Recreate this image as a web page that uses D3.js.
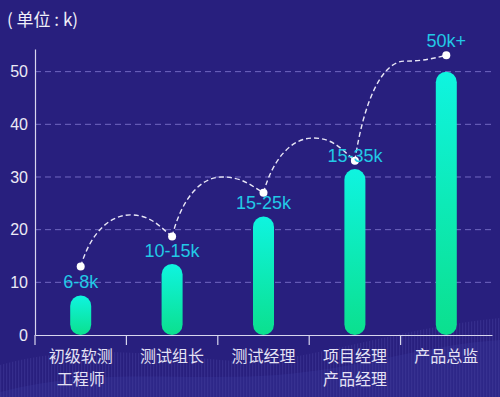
<!DOCTYPE html>
<html>
<head>
<meta charset="utf-8">
<script src="https://cdn.jsdelivr.net/npm/d3@7/dist/d3.min.js"></script>
<style>
  html, body { margin: 0; padding: 0; background: #281f7e; }
  svg { display: block; }
</style>
</head>
<body>
<div id="chart"></div>
<script>
// 数据
const categories = ["初级软测\n工程师", "测试组长", "测试经理", "项目经理\n产品经理", "产品总监"];
const barValues = [7.5, 13.5, 22.5, 31.5, 50];
const salaryLabels = ["6-8k", "10-15k", "15-25k", "15-35k", "50k+"];
const dotValues = [13, 18.7, 27, 33.1, 53.1];
// 虚线在两个柱子之间（分界处）的高度
const bumpValues = [22.8, 30, 37.4, 52];
const yTicks = [0, 10, 20, 30, 40, 50];

function renderChart() {
    const W = 500, H = 397;
    const margin = {top: 49, right: 8, bottom: 62, left: 35};
    const width = W - margin.left - margin.right;
    const height = H - margin.top - margin.bottom;

    const svg = d3.select("#chart").append("svg")
        .attr("width", W)
        .attr("height", H);

    const defs = svg.append("defs");

    // 柱子渐变
    const grad = defs.append("linearGradient")
        .attr("id", "barGrad")
        .attr("x1", 0).attr("y1", 0).attr("x2", 0).attr("y2", 1);
    grad.append("stop").attr("offset", "0%").attr("stop-color", "#0ff4e0");
    grad.append("stop").attr("offset", "100%").attr("stop-color", "#0be08e");

    // 背景底部的波浪纹理
    const pat = defs.append("pattern")
        .attr("id", "lines")
        .attr("width", 3).attr("height", 3)
        .attr("patternUnits", "userSpaceOnUse");
    pat.append("rect").attr("width", 1.2).attr("height", 3).attr("fill", "#8884e0");

    svg.append("rect").attr("width", W).attr("height", H).attr("fill", "#281f7e");

    const wave1 = "M0,365 C70,345 140,352 220,360 C300,368 380,330 500,318 L500,397 L0,397 Z";
    const wave2 = "M0,392 C90,368 170,380 260,376 C350,372 420,345 500,340 L500,397 L0,397 Z";
    svg.append("path").attr("d", wave1).attr("fill", "url(#lines)").attr("opacity", 0.14);
    svg.append("path").attr("d", wave2).attr("fill", "#3b3aa0").attr("opacity", 0.3);

    const g = svg.append("g")
        .attr("transform", `translate(${margin.left},${margin.top})`);

    const x = d3.scaleBand()
        .domain(categories)
        .range([0, width])
        .padding(0);

    const y = d3.scaleLinear()
        .domain([0, 54.3])
        .range([height, 0]);

    const font = "'Liberation Sans', 'Noto Sans CJK SC', sans-serif";

    // 网格线
    g.selectAll(".grid")
        .data(yTicks.filter(d => d > 0))
        .enter().append("line")
        .attr("x1", 0).attr("x2", width)
        .attr("y1", d => y(d)).attr("y2", d => y(d))
        .attr("stroke", "#8a80d8")
        .attr("stroke-opacity", 0.75)
        .attr("stroke-width", 1)
        .attr("stroke-dasharray", "6,4");

    // 纵轴
    const yAxis = d3.axisLeft(y).tickValues(yTicks).tickSize(0).tickPadding(7);
    const ya = g.append("g").call(yAxis);
    ya.select(".domain").attr("stroke", "#d8d6ee").attr("stroke-width", 1.2);
    ya.selectAll("text")
        .attr("fill", "#ecebf6")
        .style("font-size", "16px")
        .style("font-family", font);

    // 横轴
    const xa = g.append("g")
        .attr("transform", `translate(0,${height})`)
        .call(d3.axisBottom(x).tickSize(0).tickFormat(""));
    xa.select(".domain").attr("stroke", "#d8d6ee").attr("stroke-width", 1.2);
    xa.selectAll(".tick").remove();

    // 分界刻度
    g.selectAll(".xtick")
        .data(categories)
        .enter().append("line")
        .attr("x1", d => x(d)).attr("x2", d => x(d))
        .attr("y1", height).attr("y2", height + 10)
        .attr("stroke", "#d8d6ee")
        .attr("stroke-width", 1.2);

    // 类目文字（可换行）
    const lbl = g.selectAll(".xlabel")
        .data(categories)
        .enter().append("text")
        .attr("text-anchor", "middle")
        .attr("fill", "#e4e2f4")
        .style("font-size", "16px")
        .style("font-family", "'Noto Sans CJK SC', sans-serif");
    lbl.each(function(d) {
        const t = d3.select(this);
        d.split("\n").forEach((line, i) => {
            t.append("tspan")
                .attr("x", x(d) + x.bandwidth() / 2)
                .attr("y", height + 27 + i * 23)
                .text(line);
        });
    });

    // 柱子
    const bw = 21;
    g.selectAll(".bar")
        .data(barValues)
        .enter().append("rect")
        .attr("x", (d, i) => x(categories[i]) + x.bandwidth() / 2 - bw / 2)
        .attr("y", d => y(d))
        .attr("width", bw)
        .attr("height", d => y(0) - y(d))
        .attr("rx", bw / 2)
        .attr("fill", "url(#barGrad)");

    // 虚线：每段从圆点弧形越过分界处再落到下一个圆点
    const cx = i => x(categories[i]) + x.bandwidth() / 2;
    for (let i = 0; i < dotValues.length - 1; i++) {
        const x0 = cx(i), y0 = y(dotValues[i]);
        const xa = x(categories[i + 1]) + 4, yb = y(bumpValues[i]);
        const x1 = cx(i + 1), y1 = y(dotValues[i + 1]);
        const d1 = xa - x0, d2 = x1 - xa;
        const p = d3.path();
        p.moveTo(x0, y0);
        p.bezierCurveTo(x0 + 0.18 * d1, y0 - 0.6 * (y0 - yb), xa - 0.45 * d1, yb, xa, yb);
        p.bezierCurveTo(xa + 0.5 * d2, yb, x1 - 0.3 * d2, y1 - 0.45 * (y1 - yb), x1, y1);
        g.append("path")
            .attr("d", p.toString())
            .attr("fill", "none")
            .attr("stroke", "#e8e6f6")
            .attr("stroke-width", 1.4)
            .attr("stroke-dasharray", "5,3");
    }

    g.selectAll(".dot")
        .data(dotValues)
        .enter().append("circle")
        .attr("cx", (d, i) => cx(i))
        .attr("cy", d => y(d))
        .attr("r", 4)
        .attr("fill", "#ffffff");

    // 薪资标签
    const last = salaryLabels.length - 1;
    g.selectAll(".label")
        .data(salaryLabels)
        .enter().append("text")
        .attr("x", (d, i) => cx(i))
        .attr("y", (d, i) => i === last ? y(dotValues[i]) - 8 : y(barValues[i]) - 7)
        .attr("text-anchor", "middle")
        .attr("fill", "#22c9e6")
        .style("font-size", "18px")
        .style("font-family", font)
        .text(d => d);

    // 单位
    svg.append("text")
        .attr("x", 7)
        .attr("y", 26)
        .attr("fill", "#f0eff8")
        .style("font-size", "17px")
        .style("font-family", "'Noto Sans CJK SC', sans-serif")
        .text("( 单位 : k)");
}

renderChart();
</script>
</body>
</html>
